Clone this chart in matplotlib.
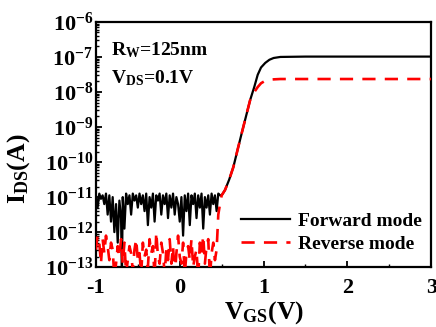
import matplotlib
matplotlib.use("Agg")
import matplotlib.pyplot as plt
import numpy as np
from matplotlib.ticker import LogLocator, FixedLocator, NullFormatter, FuncFormatter

plt.rcParams['font.family'] = ['Liberation Serif', 'DejaVu Serif']
plt.rcParams['font.weight'] = 'bold'
plt.rcParams['mathtext.fontset'] = 'custom'
plt.rcParams['mathtext.rm'] = 'Liberation Serif:bold'
plt.rcParams['mathtext.bf'] = 'Liberation Serif:bold'
plt.rcParams['mathtext.it'] = 'Liberation Serif:bold'

# ---- data (log10 of I_DS in A) ----
v_noise = [-1.00, -0.98, -0.96, -0.94, -0.92, -0.90, -0.88, -0.86, -0.84, -0.82,
           -0.80, -0.78, -0.76, -0.74, -0.72, -0.70, -0.69, -0.68, -0.66, -0.64,
           -0.62, -0.60, -0.58, -0.56, -0.54, -0.52, -0.50, -0.48, -0.46, -0.44,
           -0.42, -0.40, -0.38, -0.36, -0.34, -0.32, -0.30, -0.28, -0.26, -0.24,
           -0.22, -0.20, -0.18, -0.16, -0.14, -0.12, -0.10, -0.08, -0.06, -0.04,
           -0.02, 0.00, 0.02, 0.04, 0.06, 0.08, 0.10, 0.12, 0.14, 0.16,
           0.18, 0.20, 0.22, 0.24, 0.26, 0.28, 0.30, 0.32, 0.34, 0.36,
           0.38, 0.40, 0.42, 0.44, 0.46, 0.48]
fwd_noise_log = [-10.95, -11.3, -10.9, -11.05, -10.95, -11.2, -10.9, -11.5, -10.95, -11.7,
                 -11.0, -12.0, -11.2, -12.3, -11.1, -11.6, -13.3, -11.0, -11.9, -10.9,
                 -11.2, -10.95, -11.5, -10.9, -11.1, -10.95, -11.3, -10.9, -11.2, -10.95,
                 -11.4, -10.9, -11.8, -11.0, -11.3, -10.9, -11.7, -10.95, -11.1, -10.9,
                 -11.5, -10.95, -11.2, -10.9, -11.6, -10.95, -11.3, -10.9, -11.5, -11.0,
                 -11.2, -11.7, -11.0, -12.1, -10.95, -11.4, -10.9, -11.8, -10.95, -11.2,
                 -10.9, -11.6, -10.95, -11.3, -10.9, -11.9, -11.0, -11.3, -10.95, -11.5,
                 -10.9, -11.2, -10.95, -11.4, -10.9, -10.95]
rev_noise_log = [-12.5, -12.1, -12.3, -12.9, -12.2, -12.6, -12.1, -12.4, -12.8, -12.3,
                 -12.5, -13.3, -12.9, -12.4, -12.7, -12.2, -12.6, -12.9, -12.3, -13.2,
                 -12.8, -12.4, -12.6, -13.1, -12.5, -12.2, -12.8, -12.6, -13.2, -12.3,
                 -12.7, -12.5, -13.0, -12.2, -12.6, -12.4, -13.3, -12.0, -12.7, -12.9,
                 -12.3, -12.6, -13.2, -12.5, -12.8, -12.2, -12.9, -12.4, -13.3, -12.6,
                 -12.1, -12.7, -12.9, -12.3, -13.2, -12.6, -12.4, -12.8, -12.2, -13.0,
                 -12.7, -12.5, -13.3, -12.3, -12.6, -12.1, -12.9, -12.4, -12.2, -13.3,
                 -12.6, -12.3, -12.8, -12.5, -11.5, -11.2]

v_on = [0.50, 0.54, 0.59, 0.64, 0.69, 0.74, 0.79, 0.84, 0.89, 0.93,
        0.97, 1.02, 1.07, 1.12, 1.20, 1.50, 2.00, 3.00]
fwd_on_log = [-10.95, -10.8, -10.5, -10.14, -9.65, -9.17, -8.7, -8.23, -7.85, -7.51,
              -7.3, -7.17, -7.08, -7.03, -7.0, -6.99, -6.99, -6.99]
rev_on_log = [-10.95, -10.8, -10.5, -10.14, -9.65, -9.17, -8.7, -8.23, -8.0, -7.86,
              -7.75, -7.68, -7.65, -7.64, -7.63, -7.63, -7.63, -7.63]

fwd_v = v_noise + v_on
fwd_i = [10 ** x for x in fwd_noise_log + fwd_on_log]
rev_v = v_noise + v_on
rev_i = [10 ** x for x in rev_noise_log + rev_on_log]

fig = plt.figure(figsize=(4.36, 3.27), dpi=100)
ax = fig.add_axes([0.220, 0.183, 0.769, 0.750])

ax.plot(fwd_v, fwd_i, color='black', lw=1.6, label='Forward mode', zorder=3)
ax.plot(rev_v, rev_i, color='red', lw=1.9, ls=(0, (5, 3.5)), label='Reverse mode', zorder=4)

ax.set_yscale('log')
ax.set_xlim(-1, 3)
ax.set_ylim(1e-13, 1e-6)

ax.set_xticks([-1, 0, 1, 2, 3])
ax.set_xticklabels(['-1', '0', '1', '2', '3'])
ax.xaxis.set_minor_locator(FixedLocator([-0.5, 0.5, 1.5, 2.5]))
ax.yaxis.set_major_locator(LogLocator(base=10, numticks=20))
ax.yaxis.set_minor_locator(LogLocator(base=10, subs=np.arange(2, 10), numticks=20))
ax.yaxis.set_minor_formatter(NullFormatter())
ax.yaxis.set_major_formatter(FuncFormatter(lambda y, p: r'$\mathbf{10^{%d}}$' % int(round(np.log10(y)))))

ax.tick_params(axis='both', which='major', direction='in', length=4, width=1.3,
               labelsize=16, top=False, right=False)
ax.tick_params(axis='both', which='minor', direction='in', length=2, width=1.0,
               top=False, right=False)
ax.tick_params(axis='x', pad=8)
ax.tick_params(axis='y', pad=2)
for lab in ax.get_xticklabels():
    lab.set_fontweight('bold')

for s in ax.spines.values():
    s.set_linewidth(1.6)

ax.set_xlabel(r'$\mathbf{V_{GS}(V)}$', fontsize=18.5, labelpad=0.5)
ax.set_ylabel(r'$\mathbf{I_{DS}(A)}$', fontsize=18.5)
ax.yaxis.set_label_coords(-0.19, 0.40)

ax.text(0.045, 0.885, r'$\mathbf{R_{W}}$=125nm', transform=ax.transAxes,
        fontsize=14, fontweight='bold', va='center')
ax.text(0.045, 0.77, r'$\mathbf{V_{DS}}$=0.1V', transform=ax.transAxes,
        fontsize=14, fontweight='bold', va='center')

leg = ax.legend(loc='lower right', frameon=False, prop={'size': 14, 'weight': 'bold'},
                handlelength=2.5, handletextpad=0.4, labelspacing=0.25,
                borderaxespad=0.1, bbox_to_anchor=(1.0, 0.02))

fig.savefig('out.png', dpi=100)
